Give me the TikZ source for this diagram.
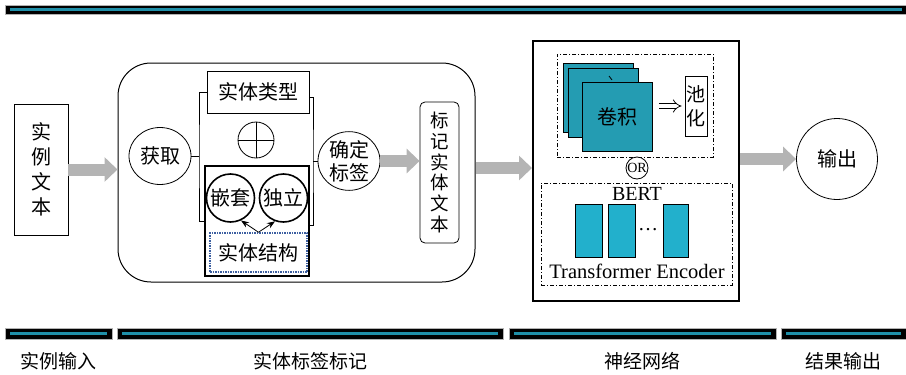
\documentclass[tikz,border=0pt]{standalone}
\usepackage{fontspec}
\setmainfont{Noto Sans CJK SC}
\newfontfamily\tnr{Liberation Serif}
\usetikzlibrary{arrows.meta,shapes.geometric}
\definecolor{barteal}{RGB}{31,143,168}
\definecolor{convteal}{RGB}{36,156,178}
\definecolor{encteal}{RGB}{34,176,204}
\definecolor{arrowgray}{RGB}{180,180,180}
\definecolor{dotblue}{RGB}{60,95,160}
\begin{document}
\begin{tikzpicture}[x=1pt, y=-1pt,
    every node/.style={inner sep=0pt, align=center, font=\fontsize{20}{25}\selectfont},
    box/.style={draw, line width=0.8pt},
    circ/.style={draw, circle, line width=0.8pt},
    oval/.style={draw, ellipse, line width=0.8pt},
    dashbox/.style={draw, line width=0.9pt, dash pattern=on 4pt off 2pt on 1pt off 2pt},
    bigarrow/.style={draw=arrowgray, line width=12pt, -{Triangle[length=13pt,width=24pt]}},
    conv/.style={draw, line width=0.6pt, fill=convteal, minimum width=70pt, minimum height=69pt},
    enc/.style={draw, line width=0.6pt, fill=encteal, minimum height=53pt}]
    \useasboundingbox (0,0) rectangle (906,375);
    \draw[fill=black, draw=gray!60, line width=1pt] (5,5) rectangle (906,14);
    \draw[barteal, line width=2.5pt] (10,9.5) -- (902,9.5);
    \foreach \a/\b/\t [count=\i] in {5/112/实例输入, 117/503/实体标签标记, 509/776/神经网络, 781/906/结果输出} {
      \draw[fill=black, draw=gray!60, line width=1pt] (\a,328) rectangle (\b,339);
      \draw[barteal, line width=2.5pt] (\a+5,333.5) -- (\b-5,333.5);
      \node[font=\fontsize{19}{22}\selectfont] (L\i) at ({(\a+\b)/2},361) {\t};
    }
    \node[box, minimum width=54pt, minimum height=131pt] (In) at (41,169.5) {实\\例\\文\\本};
    \node[draw, line width=1pt, rounded corners=33pt, minimum width=357pt, minimum height=219pt] (Big) at (296.5,172.5) {};
    \node[oval, minimum width=62pt, minimum height=57pt] (Get) at (160,156) {获取};
    \node[box, minimum width=102pt, minimum height=42pt] (Type) at (258,92) {实体类型};
    \node[circ, minimum size=36pt] (Plus) at (256,140) {};
    \draw[line width=0.8pt] (Plus.north) -- (Plus.south) (Plus.west) -- (Plus.east);
    \node[draw, line width=1.6pt, minimum width=104pt, minimum height=110pt] (SBox) at (257,221) {};
    \node[circ, line width=1.6pt, minimum size=48pt] (Nest) at (230.5,198) {嵌套};
    \node[circ, line width=1.6pt, minimum size=48pt] (Indep) at (283.5,198) {独立};
    \node[draw=dotblue, densely dotted, line width=1.5pt, minimum width=97pt, minimum height=39pt] (Struct) at (258.5,252.5) {实体结构};
    \draw[-{Stealth[length=8pt]}, line width=0.8pt] (Struct.north) -- (Nest.-65);
    \draw[-{Stealth[length=8pt]}, line width=0.8pt] (Struct.north) -- (Indep.-110);
    \coordinate (LB) at (199,156);
    \coordinate (RB) at (313,161);
    \draw[line width=0.8pt] (Type.west) -| (LB) |- (SBox.west);
    \draw[line width=0.8pt] (Get.east) -- (LB);
    \draw[line width=0.8pt] ([yshift=-5pt]Type.east) -| (RB) |- ([yshift=-4pt]SBox.east);
    \node[oval, minimum width=62pt, minimum height=55pt, font=\fontsize{20}{23}\selectfont] (Label) at (349,161) {确定\\标签};
    \draw[line width=0.8pt] (RB) -- (Label.west);
    \node[box, rounded corners=5pt, minimum width=39pt, minimum height=141pt, font=\fontsize{18.5}{20.8}\selectfont] (Mark) at (439.5,172.5) {标\\记\\实\\体\\文\\本};
    \node[draw, line width=2pt, minimum width=206pt, minimum height=260pt] (NN) at (636,171) {};
    \node[dashbox, minimum width=156pt, minimum height=103pt] (ConvBox) at (635,105.5) {};
    \node[conv] (Back) at (598,97.5) {};
    \node[conv] (Mid) at (603,102.5) {};
    \draw[line width=0.8pt] (609,76) -- (612,80);
    \node[conv] (Front) at (617.5,117) {卷积};
    \node[box, minimum width=22pt, minimum height=60pt, font=\fontsize{19}{24}\selectfont] (Pool) at (696,106) {池\\化};
    \draw[-{Implies}, double, double distance=4pt, line width=0.7pt] ([xshift=6pt]Front.east |- Pool.west) -- ([xshift=-3pt]Pool.west);
    \node[circ, minimum size=22pt, fill=white, font=\tnr\fontsize{14}{14}\selectfont] (OR) at (637,168) {OR};
    \node[dashbox, minimum width=191pt, minimum height=102pt] (BertBox) at (636.5,234) {};
    \node[font=\tnr\fontsize{20}{20}\selectfont] (Bert) at (637,194) {BERT};
    \node[enc, minimum width=27pt] (E1) at (588.5,230.5) {};
    \node[enc, minimum width=27pt] (E2) at (621.5,230.5) {};
    \node[enc, minimum width=25pt] (E3) at (675.5,230.5) {};
    \node[font=\tnr\fontsize{20}{20}\selectfont] (Dots) at (648,230) {…};
    \node[font=\tnr\fontsize{20.5}{21}\selectfont] (Enc) at (637,271) {Transformer Encoder};
    \node[circ, minimum size=81pt] (Out) at (837,159) {输出};
    \draw[bigarrow] (In.east) -- (In.east -| Big.west);
    \draw[bigarrow] (Label.east) -- (Label.east -| Mark.west);
    \draw[bigarrow] ([yshift=4.5pt]Big.east) -- ([yshift=4.5pt]Big.east -| NN.west);
    \draw[bigarrow] (Out.west -| NN.east) -- (Out.west);
\end{tikzpicture}
\end{document}
